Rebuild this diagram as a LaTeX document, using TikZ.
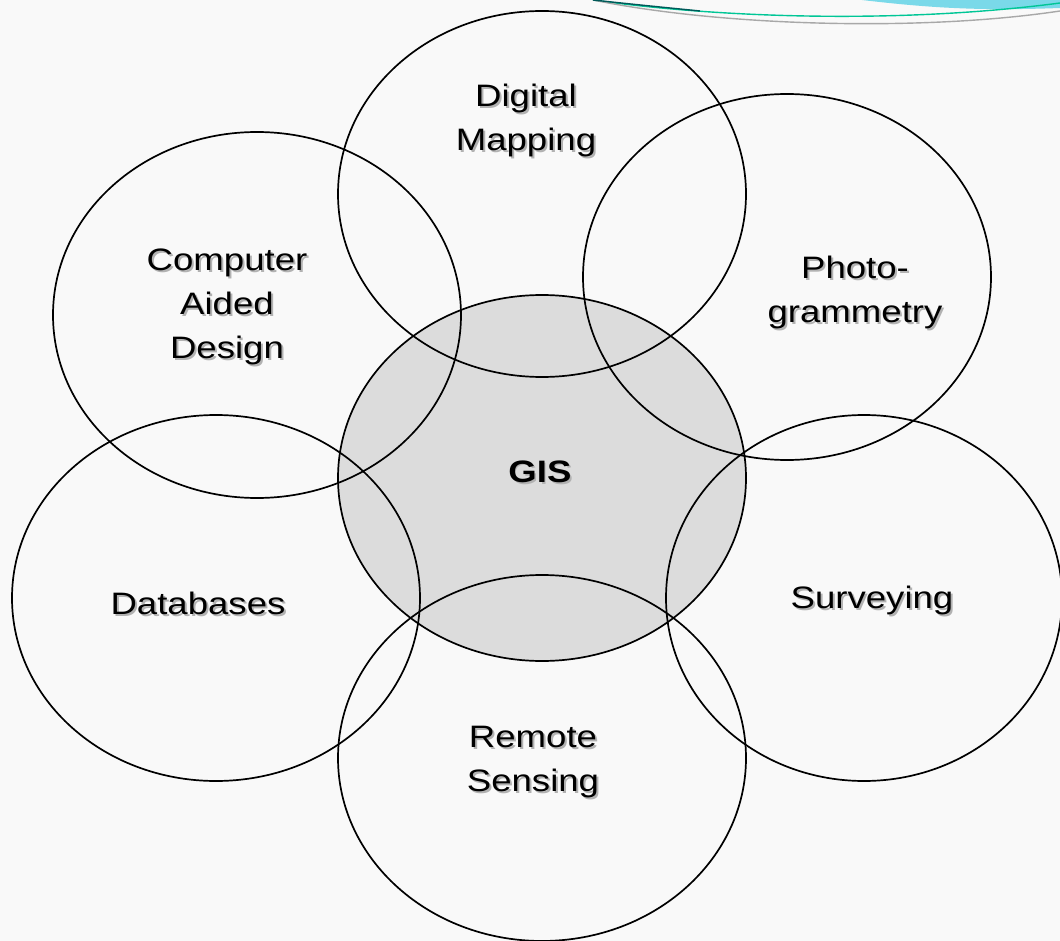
\documentclass[tikz,border=0pt]{standalone}
\usepackage{fontspec}
\setmainfont{Liberation Sans}
\usetikzlibrary{shapes.geometric, positioning, calc}
\definecolor{bgcolor}{RGB}{249,249,249}
\definecolor{giscolor}{RGB}{220,220,220}
\definecolor{swooshblue}{RGB}{122,217,233}
\definecolor{swooshgreen}{RGB}{0,198,150}
\definecolor{swooshgray}{RGB}{168,168,168}

% label with a soft drop shadow
\newcommand{\fieldlabel}[4][]{%
    \node[labeltext, text=black!30] (#2s) at ($(#3)+(2,2)$) {#4};
    \node[labeltext, #1] (#2) at (#3) {#4};
}

\begin{document}
\begin{tikzpicture}[
    x=1pt, y=-1pt,
    field/.style={ellipse, draw=black, line width=1.7pt,
        minimum width=408pt, minimum height=366pt, inner sep=0pt},
    labeltext/.style={font=\fontsize{31}{44}\selectfont, align=center,
        inner sep=0pt, xscale=1.18, transform shape},
]

% === BACKGROUND ===
\fill[bgcolor] (0,0) rectangle (1060,941);
\useasboundingbox (0,0) rectangle (1060,941);

% top swoosh
\fill[swooshblue] (862,0) .. controls (930,8) and (980,11) .. (1060,8) -- (1060,0) -- cycle;
\draw[swooshgreen, line width=1.4pt] (593,0) .. controls (720,18) and (900,24) .. (1060,3);
\draw[swooshgray, line width=1.4pt] (593,0) .. controls (720,26) and (920,32) .. (1060,11);
\draw[teal!70!black, line width=1.4pt] (593,0) .. controls (630,4) and (660,7) .. (700,11);

% === CENTRE ===
\node[field, fill=giscolor] (gis) at (542,478) {};

% === SURROUNDING FIELDS ===
\node[field] (digital) at (542,194) {};
\node[field] (photo) at (787,277) {};
\node[field, minimum width=396pt] (survey) at (864,598) {};
\node[field] (remote) at (542,758) {};
\node[field] (databases) at (216,598) {};
\node[field] (cad) at (257,315) {};

% === LABELS ===
\fieldlabel[font=\fontsize{31}{44}\selectfont\bfseries]{gislbl}{540,472}{GIS}
\fieldlabel{digitallbl}{526,120}{Digital\\Mapping}
\fieldlabel{photolbl}{855,292}{Photo-\\grammetry}
\fieldlabel{surveylbl}{872,600}{Surveying}
\fieldlabel{remotelbl}{533,762}{Remote\\Sensing}
\fieldlabel{databaseslbl}{198,603}{Databases}
\fieldlabel{cadlbl}{227,307}{Computer\\Aided\\Design}

\end{tikzpicture}
\end{document}
